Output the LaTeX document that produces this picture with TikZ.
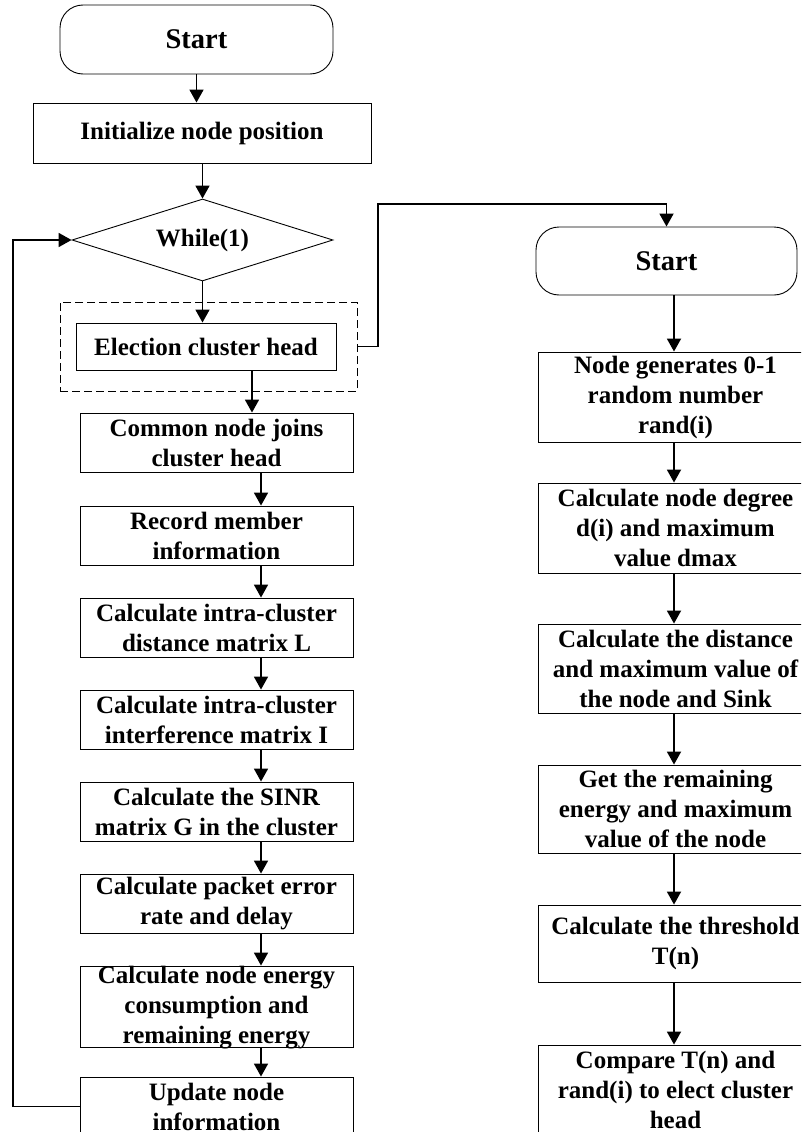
\documentclass[tikz,border=0pt]{standalone}
\usepackage{fontspec}
\setmainfont{Liberation Serif}
\usetikzlibrary{arrows.meta,shapes.geometric}
\begin{document}
\begin{tikzpicture}[x=1pt,y=-1pt,
  font=\bfseries\fontsize{25}{30}\selectfont,
  box/.style={draw,line width=0.9pt,inner sep=0pt,align=center},
  term/.style={draw,line width=0.9pt,rounded corners=23pt,inner sep=0pt,align=center,font=\bfseries\fontsize{28.5}{30}\selectfont},
  decision/.style={draw,diamond,aspect=3.18,line width=0.9pt,inner sep=0pt,minimum width=261pt,minimum height=82pt},
  groupframe/.style={draw,dashed,dash pattern=on 8pt off 4pt,line width=0.8pt,inner sep=0pt},
  plain/.style={inner sep=0pt,align=center},
  arr/.style={-{Triangle[length=13pt,width=14pt]},line width=1.8pt},
]
\useasboundingbox (0,0) rectangle (801,1132);
\fill[white] (0,0) rectangle (801,1132);
\clip (0,0) rectangle (801,1132);

% left column
\node[term,minimum width=273pt,minimum height=69pt] (s1) at (196.5,39.5) {Start};
\node[box,minimum width=338pt,minimum height=60pt] (init) at (202,133) {Initialize node position};
\node[decision] (w) at (202.5,240) {While(1)};
\node[groupframe,minimum width=297pt,minimum height=89pt] (grp) at (208.5,346.5) {};
\node[box,minimum width=260pt,minimum height=47pt] (elect) at (206,346.5) {Election cluster head};

\node[box,minimum width=273pt,minimum height=59pt] (common) at (216.5,442.5) {Common node joins\\cluster head};
\node[box,minimum width=273pt,minimum height=59pt] (record) at (216.5,535.5) {Record member\\information};
\node[box,minimum width=273pt,minimum height=59pt] (calcL) at (216.5,627.5) {Calculate intra-cluster\\distance matrix L};
\node[box,minimum width=273pt,minimum height=59pt] (calcI) at (216.5,719.5) {Calculate intra-cluster\\interference matrix I};
\node[box,minimum width=273pt,minimum height=59pt] (sinr) at (216.5,811.5) {Calculate the SINR\\matrix G in the cluster};
\node[box,minimum width=273pt,minimum height=59pt] (packet) at (216.5,903.5) {Calculate packet error\\rate and delay};
\node[box,minimum width=273pt,minimum height=81pt] (energy) at (216.5,1006.5) {};
\node[plain] (energytxt) at (216.5,1008) {Calculate node energy\\consumption and\\remaining energy};
\node[box,minimum width=273pt,minimum height=59pt] (update) at (216.5,1106.5) {Update node\\information};

% right column
\node[term,minimum width=261pt,minimum height=68pt] (s2) at (666.5,261) {Start};
\node[box,minimum width=275pt,minimum height=90pt] (r1) at (675.5,397) {Node generates 0-1\\random number\\rand(i)};
\node[box,minimum width=275pt,minimum height=90pt] (r2) at (675.5,528) {Calculate node degree\\d(i) and maximum\\value dmax};
\node[box,minimum width=275pt,minimum height=89pt] (r3) at (675.5,668.5) {Calculate the distance\\and maximum value of\\the node and Sink};
\node[box,minimum width=275pt,minimum height=88pt] (r4) at (675.5,809) {Get the remaining\\energy and maximum\\value of the node};
\node[box,minimum width=275pt,minimum height=77pt] (r5) at (675.5,943.5) {Calculate the threshold\\T(n)};
\node[box,minimum width=275pt,minimum height=90pt] (r6) at (675.5,1090) {Compare T(n) and\\rand(i) to elect cluster\\head};

% helper coordinates
\coordinate (xa) at (252,0);
\coordinate (xb) at (261,0);
\coordinate (xr) at (674,0);
\coordinate (k1) at (378,204);
\coordinate (fb) at (13,240);

% connectors, left
\draw[arr] (s1.south) -- (s1.south |- init.north);
\draw[arr] (w.north |- init.south) -- (w.north);
\draw[arr] (w.south) -- (w.south |- elect.north);
\draw[arr] (elect.south -| xa) -- (common.north -| xa);
\draw[arr] (common.south -| xb) -- (record.north -| xb);
\draw[arr] (record.south -| xb) -- (calcL.north -| xb);
\draw[arr] (calcL.south -| xb) -- (calcI.north -| xb);
\draw[arr] (calcI.south -| xb) -- (sinr.north -| xb);
\draw[arr] (sinr.south -| xb) -- (packet.north -| xb);
\draw[arr] (packet.south -| xb) -- (energy.north -| xb);
\draw[arr] (energy.south -| xb) -- (update.north -| xb);
\draw[arr] (update.west) -| (fb) -- (w.west);

% link to right column
\draw[arr] (grp.east) -| (k1) -| (s2.north);

% connectors, right
\draw[arr] (s2.south -| xr) -- (r1.north -| xr);
\draw[arr] (r1.south -| xr) -- (r2.north -| xr);
\draw[arr] (r2.south -| xr) -- (r3.north -| xr);
\draw[arr] (r3.south -| xr) -- (r4.north -| xr);
\draw[arr] (r4.south -| xr) -- (r5.north -| xr);
\draw[arr] (r5.south -| xr) -- (r6.north -| xr);
\end{tikzpicture}
\end{document}
